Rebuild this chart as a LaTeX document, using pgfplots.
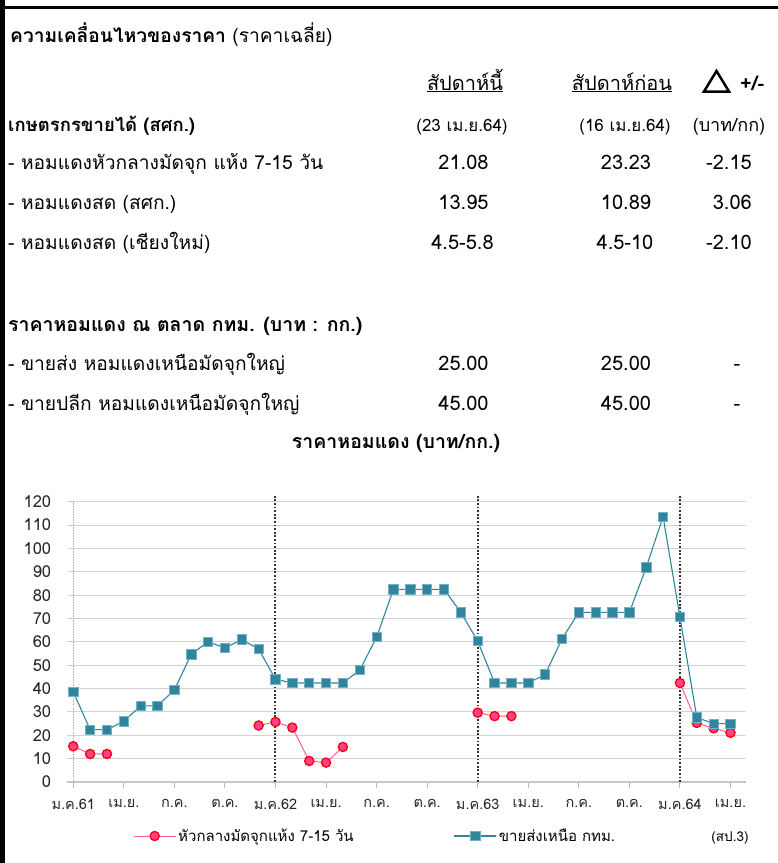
\documentclass[border=0pt]{standalone}
\usepackage{fontspec}
\usepackage{pgfplots}
\pgfplotsset{compat=1.18}
\setmainfont[Script=Thai]{Loma}
\definecolor{blueC}{HTML}{31849B}
\definecolor{blueL}{HTML}{6FB3C8}
\definecolor{pinkF}{HTML}{FF3F8F}
\definecolor{pinkL}{HTML}{FF5FA0}
\newcommand\tf{\fontsize{19.2}{22}\selectfont}
\newcommand\nf{\fontsize{20}{23}\selectfont}
\newcommand\df{\fontsize{17}{20}\selectfont}
\pgfplotstableread{
x y
0 15.3
1 12.0
2 12.0
3 nan
11 24.2
12 25.7
13 23.3
14 9.0
15 8.3
16 15.0
17 nan
24 29.7
25 28.2
26 28.2
27 nan
36 42.4
37 25.3
38 23.0
39 21.08
}\redtable
\pgfplotstableread{
x y
0 38.6
1 22.4
2 22.4
3 26.0
4 32.6
5 32.6
6 39.4
7 54.7
8 60.0
9 57.4
10 61.0
11 56.9
12 44.0
13 42.4
14 42.4
15 42.4
16 42.4
17 47.9
18 62.0
19 82.5
20 82.5
21 82.5
22 82.5
23 72.6
24 60.3
25 42.4
26 42.4
27 42.4
28 46.0
29 61.3
30 72.6
31 72.6
32 72.6
33 72.6
34 91.9
35 113.6
36 70.6
37 27.6
38 25.0
39 25.0
}\bluetable
\begin{document}
\begin{tikzpicture}[x=1pt,y=1pt]
\useasboundingbox (0,0) rectangle (778,-863);
\fill[black] (0,0) rectangle (5,-863);
\fill[black] (0,-6) rectangle (778,-9);
% title
\node[anchor=base west,inner sep=0] at (10,-42) {\tf\textbf{ความเคลื่อนไหวของราคา} (ราคาเฉลี่ย)};
% headers
\node[anchor=base,inner sep=0] at (465,-90) {\fontsize{20}{23}\selectfont\underline{สัปดาห์นี้}};
\node[anchor=base,inner sep=0] at (622,-90) {\fontsize{20}{23}\selectfont\underline{สัปดาห์ก่อน}};
\draw[line width=2.5pt,line join=miter] (704,-91.5) -- (716.5,-71) -- (729,-91.5) -- cycle;
\node[anchor=base west,inner sep=0] at (740,-90) {\fontsize{20}{23}\selectfont\textbf{+/-}};
% row group 1
\node[anchor=base west,inner sep=0] at (8,-131) {\fontsize{18.5}{22}\selectfont\textbf{เกษตรกรขายได้ (สศก.)}};
\node[anchor=base,inner sep=0] at (462,-131) {\df (23 เม.ย.64)};
\node[anchor=base,inner sep=0] at (625,-131) {\df (16 เม.ย.64)};
\node[anchor=base,inner sep=0] at (729,-131) {\fontsize{18}{21}\selectfont (บาท/กก)};
\node[anchor=base west,inner sep=0] at (8,-169) {\tf - หอมแดงหัวกลางมัดจุก แห้ง 7-15 วัน};
\node[anchor=base,inner sep=0] at (463.5,-169) {\nf 21.08};
\node[anchor=base,inner sep=0] at (626,-169) {\nf 23.23};
\node[anchor=base east,inner sep=0] at (752,-169) {\nf -2.15};
\node[anchor=base west,inner sep=0] at (8,-209) {\tf - หอมแดงสด (สศก.)};
\node[anchor=base,inner sep=0] at (463.5,-209) {\nf 13.95};
\node[anchor=base,inner sep=0] at (626,-209) {\nf 10.89};
\node[anchor=base east,inner sep=0] at (752,-209) {\nf 3.06};
\node[anchor=base west,inner sep=0] at (8,-249) {\tf - หอมแดงสด (เชียงใหม่)};
\node[anchor=base,inner sep=0] at (462.5,-249) {\nf 4.5-5.8};
\node[anchor=base,inner sep=0] at (625,-249) {\nf 4.5-10};
\node[anchor=base east,inner sep=0] at (752,-249) {\nf -2.10};
% row group 2
\node[anchor=base west,inner sep=0] at (8,-331) {\fontsize{19.5}{22}\selectfont\textbf{ราคาหอมแดง ณ ตลาด กทม. (บาท : กก.)}};
\node[anchor=base west,inner sep=0] at (8,-370) {\tf - ขายส่ง หอมแดงเหนือมัดจุกใหญ่};
\node[anchor=base,inner sep=0] at (463.5,-370) {\nf 25.00};
\node[anchor=base,inner sep=0] at (626,-370) {\nf 25.00};
\node[anchor=base,inner sep=0] at (737,-370) {\nf -};
\node[anchor=base west,inner sep=0] at (8,-410) {\tf - ขายปลีก หอมแดงเหนือมัดจุกใหญ่};
\node[anchor=base,inner sep=0] at (463.5,-410) {\nf 45.00};
\node[anchor=base,inner sep=0] at (626,-410) {\nf 45.00};
\node[anchor=base,inner sep=0] at (737,-410) {\nf -};
% chart title
\node[anchor=base,inner sep=0] at (396,-448) {\fontsize{19.5}{22}\selectfont\textbf{ราคาหอมแดง (บาท/กก.)}};
\node[anchor=base,inner sep=0] at (730,-841) {\fontsize{13.5}{16}\selectfont (สป.3)};
\begin{axis}[
  at={(66.7pt,-782pt)}, anchor=south west, scale only axis,
  width=679.3pt, height=280.3pt,
  xmin=-0.39, xmax=39.92, ymin=0, ymax=120,
  clip=false,
  axis x line*=bottom, axis y line*=left,
  x axis line style={-, draw=gray!45, line width=1.2pt},
  y axis line style={draw=none},
  ytick={0,10,...,120},
  xtick={0,3,...,39},
  xticklabels={ม.ค.61,เม.ย.,ก.ค.,ต.ค.,ม.ค.62,เม.ย.,ก.ค.,ต.ค.,ม.ค.63,เม.ย.,ก.ค.,ต.ค.,ม.ค.64,เม.ย.},
  ymajorgrids, grid style={gray!35, line width=1.1pt},
  ytick style={draw=none},
  xtick style={draw=gray!55, line width=1pt},
  tick align=outside, major tick length=6pt,
  /pgf/number format/assume math mode=true,
  tick label style={text=black!85},
  yticklabel style={font=\fontsize{16.5}{18}\selectfont, xshift=-6pt},
  xticklabel style={font=\fontsize{14.5}{16}\selectfont, yshift=-8pt},
  legend columns=2,
  legend style={at={(0.0976,-0.1927)}, anchor=west, draw=none, fill=none, inner sep=0pt,
    font=\fontsize{15}{17}\selectfont, /tikz/every even column/.append style={column sep=98pt}},
  legend image code/.code={\draw[mark repeat=2,mark phase=2,#1] plot coordinates {(0pt,0pt) (21pt,0pt) (42pt,0pt)};},
]
\addplot[forget plot, gray!60, line width=0.6pt, dash pattern=on 0.8pt off 0.8pt] coordinates {(0,0) (0,120)};
\addplot[forget plot, black!80, line width=2pt, dash pattern=on 1.8pt off 1.8pt] coordinates {(12,0) (12,122.4)};
\addplot[forget plot, black!80, line width=2pt, dash pattern=on 1.8pt off 1.8pt] coordinates {(24,0) (24,122.4)};
\addplot[forget plot, black!80, line width=2pt, dash pattern=on 1.8pt off 1.8pt] coordinates {(36,0) (36,122.4)};
\addplot[color=pinkL, line width=1pt, unbounded coords=jump, mark=*, mark size=4.6pt,
  mark options={fill=pinkF, draw=red, line width=1.3pt}] table[x=x,y=y] {\redtable};
\addlegendentry{หัวกลางมัดจุกแห้ง 7-15 วัน}
\addplot[color=blueC, line width=1.1pt, mark=square*, mark size=4.7pt,
  mark options={fill=blueC, draw=blueL, line width=0.8pt}] table[x=x,y=y] {\bluetable};
\addlegendentry{ขายส่งเหนือ กทม.}
\end{axis}
\end{tikzpicture}
\end{document}
